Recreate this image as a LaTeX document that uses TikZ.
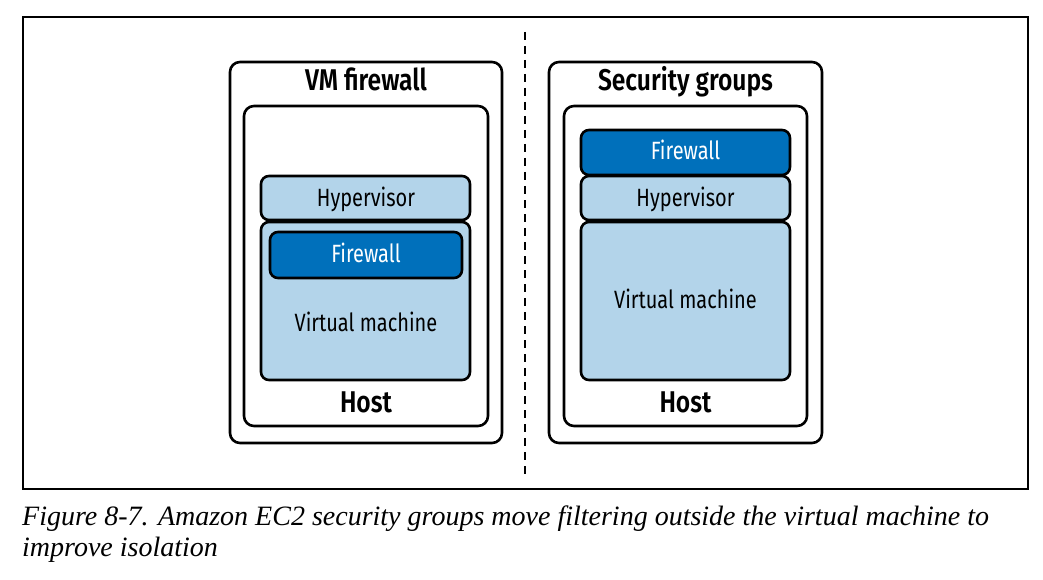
\documentclass[tikz,border=0pt]{standalone}
\usepackage{fontspec}
\setmainfont{Liberation Serif}
\newfontfamily\diafont[FakeStretch=0.8]{Fira Sans}
\newfontfamily\diabold[FakeStretch=0.82]{Fira Sans SemiBold}
\newfontfamily\capfont{Liberation Serif}
\usetikzlibrary{positioning}
\definecolor{lightblue}{HTML}{B3D4EA}
\definecolor{darkblue}{HTML}{0070BB}
\tikzset{
  panel/.style={draw=black, line width=2.6pt, rounded corners=10pt, fill=white},
  hostbox/.style={draw=black, line width=2.6pt, rounded corners=10pt, fill=white},
  layer/.style={draw=black, line width=2.6pt, rounded corners=8pt, fill=lightblue},
  fwbox/.style={draw=black, line width=2.6pt, rounded corners=8pt, fill=darkblue},
  lbl/.style={font=\diafont\fontsize{25}{28}\selectfont, text=black, inner sep=0pt, anchor=base},
  fwlbl/.style={font=\diafont\fontsize{25}{28}\selectfont, text=white, inner sep=0pt, anchor=base},
  title/.style={font=\diabold\fontsize{30}{34}\selectfont, text=black, inner sep=0pt, anchor=base},
}
\begin{document}
\begin{tikzpicture}[x=1pt,y=-1pt]
\useasboundingbox (0,0) rectangle (1043,580);
\node[draw=black, line width=1.2pt, minimum width=1005pt, minimum height=472pt, inner sep=0pt] (frame) at (525.5,253) {};
\coordinate (dtop) at (525,32);
\coordinate (dbot) at (525,474);
\draw[line width=2.2pt, dash pattern=on 8pt off 6pt] (dtop) -- (dbot);
% left
\node[panel, minimum width=272pt, minimum height=381pt] (lpanel) at (366,252.5) {};
\node[hostbox, minimum width=244pt, minimum height=320pt] (lhost) at (366,266) {};
\node[layer, minimum width=209pt, minimum height=44pt] (lhyp) at (365.5,198) {};
\node[layer, minimum width=209pt, minimum height=158pt] (lvm) at (365.5,301) {};
\node[fwbox, minimum width=192pt, minimum height=46pt] (lfw) at (366,255) {};
\node[title] (ltitle) at (366,90.7) {VM firewall};
\node[lbl] (lhyptxt) at (366,206.7) {Hypervisor};
\node[fwlbl] (lfwtxt) at (366,262.7) {Firewall};
\node[lbl] (lvmtxt) at (366,331.7) {Virtual machine};
\node[title] (lhosttxt) at (366,412.7) {Host};
% right
\node[panel, minimum width=273pt, minimum height=381pt] (rpanel) at (685.5,252.5) {};
\node[hostbox, minimum width=243pt, minimum height=320pt] (rhost) at (685.5,266) {};
\node[fwbox, minimum width=209pt, minimum height=45pt] (rfw) at (685.5,152.5) {};
\node[layer, minimum width=209pt, minimum height=44pt] (rhyp) at (685.5,198) {};
\node[layer, minimum width=209pt, minimum height=158pt] (rvm) at (685.5,301) {};
\node[title] (rtitle) at (685.5,90.7) {Security groups};
\node[lbl] (rhyptxt) at (685.5,206.7) {Hypervisor};
\node[fwlbl] (rfwtxt) at (685.5,159.3) {Firewall};
\node[lbl] (rvmtxt) at (685.5,308.3) {Virtual machine};
\node[title] (rhosttxt) at (685.5,412.7) {Host};
% caption
\node[anchor=base west, inner sep=0pt, font=\capfont\itshape\fontsize{28}{31}\selectfont] (cap1) at (22,525) {Figure 8-7. Amazon EC2 security groups move filtering outside the virtual machine to};
\node[anchor=base west, inner sep=0pt, font=\capfont\itshape\fontsize{28}{31}\selectfont] (cap2) at (22,556) {improve isolation};
\end{tikzpicture}
\end{document}
